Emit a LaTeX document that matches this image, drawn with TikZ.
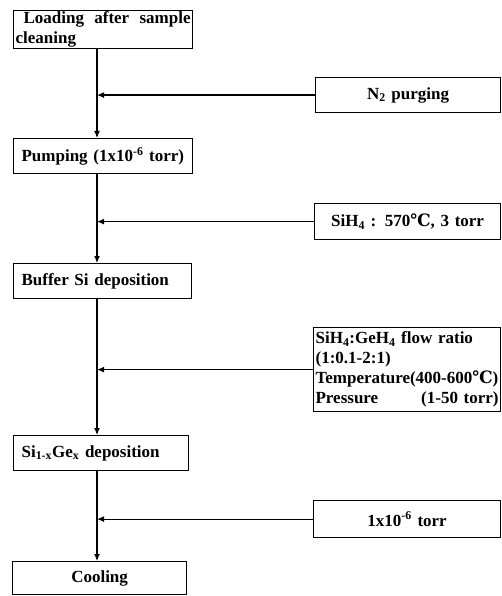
\documentclass[tikz,border=0pt]{standalone}
\usepackage{fontspec}
\setmainfont{Liberation Serif}
\newfontfamily\degfont{DejaVu Serif}
\usepackage{tikz}
\usetikzlibrary{positioning,arrows.meta}
\newcommand{\degC}{{\degfont\bfseries ℃}}
\tikzset{
  stepbox/.style={draw, line width=1.2pt, anchor=north west, inner xsep=8pt, inner ysep=0pt, align=left,
     font=\fontsize{17}{20}\selectfont\bfseries},
  condbox/.style={draw, line width=1.2pt, anchor=north west, inner xsep=0pt, inner ysep=0pt, align=center,
     font=\fontsize{17}{20}\selectfont\bfseries},
  flow/.style={line width=1.2pt, -{Latex[length=7pt,width=6pt]}}
}
\begin{document}
\begin{tikzpicture}[x=1pt,y=-1pt]
        \useasboundingbox (0,0) rectangle (501,596);
        % Process steps (left column)
        \node[stepbox, inner xsep=2pt, text width=175pt, minimum height=38pt, align=justify] (load) at (13,10)
           {\hspace*{8pt}Loading after sample\linebreak cleaning};
        \node[stepbox, text width=163pt, minimum height=35pt] (pump) at (13,138) {Pumping (1x10\textsuperscript{-6} torr)};
        \node[stepbox, text width=162pt, minimum height=35pt] (buffer) at (13,263) {Buffer Si deposition};
        \node[stepbox, text width=159pt, minimum height=35pt] (sige) at (13,435) {Si\textsubscript{1-x}Ge\textsubscript{x} deposition};
        \node[stepbox, text width=158pt, minimum height=33pt, align=center] (cool) at (12,561) {Cooling};

        % Conditions (right column)
        \node[condbox, text width=185pt, minimum height=35pt] (purge) at (315,77) {N\textsubscript{2} purging};
        \node[condbox, text width=186pt, minimum height=36pt] (silane) at (314,203) {SiH\textsubscript{4} : 570\degC, 3 torr};
        \node[condbox, inner xsep=2pt, text width=183pt, minimum height=84pt, align=left] (mix) at (313,327)
           {SiH\textsubscript{4}:GeH\textsubscript{4} flow ratio\\(1:0.1-2:1)\\Temperature(400-600\degC)\\Pressure\hfill(1-50 torr)};
        \node[condbox, text width=187pt, minimum height=37pt] (vac) at (313,500) {1x10\textsuperscript{-6} torr};

        % Main flow line
        \coordinate (spine) at (97,0);
        \draw[flow] (load.south -| spine) -- (pump.north -| spine);
        \draw[flow] (pump.south -| spine) -- (buffer.north -| spine);
        \draw[flow] (buffer.south -| spine) -- (sige.north -| spine);
        \draw[flow] (sige.south -| spine) -- (cool.north -| spine);

        % Side inputs
        \draw[flow] (purge.west) -- (purge.west -| spine);
        \draw[flow] (silane.west) -- (silane.west -| spine);
        \draw[flow] (mix.west) -- (mix.west -| spine);
        \draw[flow] (vac.west) -- (vac.west -| spine);
\end{tikzpicture}
\end{document}
